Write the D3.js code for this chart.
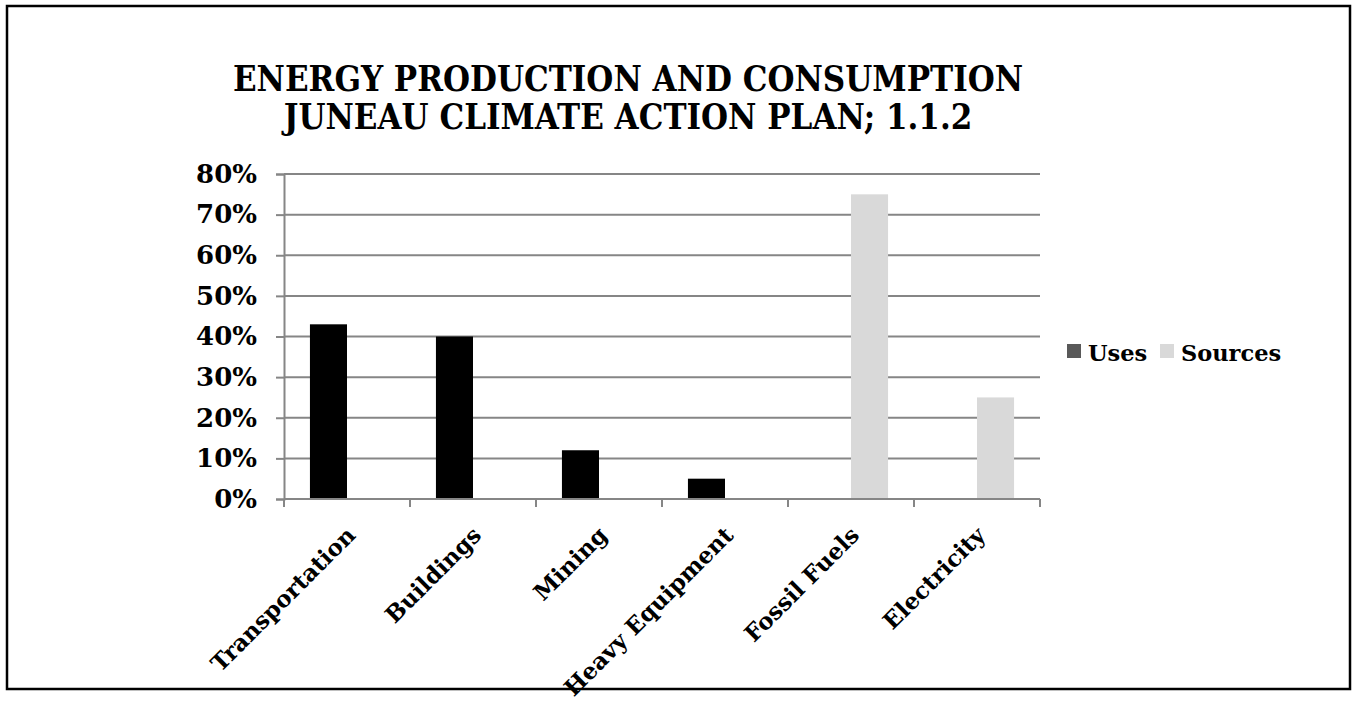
<!DOCTYPE html>
<html><head><meta charset="utf-8">
<script src="https://cdn.jsdelivr.net/npm/d3@7/dist/d3.min.js"></script>
<style>body{margin:0;background:#fff}svg{display:block}</style>
</head><body><svg id="c" width="1357" height="702"></svg>
<script>
const categories = ["Transportation","Buildings","Mining","Heavy Equipment","Fossil Fuels","Electricity"];
const seriesNames = ["Uses","Sources"];
const uses = [0.43,0.40,0.12,0.05,null,null];
const sources = [null,null,null,null,0.75,0.25];
const yTicks = [0,0.1,0.2,0.3,0.4,0.5,0.6,0.7,0.8];
const titleLines = ["Energy Production and Consumption","Juneau Climate Action Plan; 1.1.2"];
const barColors = ["#000000","#d9d9d9"];
const legendColors = ["#595959","#d9d9d9"];

const svg = d3.select("#c");
const FONT = "'DejaVu Serif', serif";
svg.append("rect").attr("x",7).attr("y",6).attr("width",1343).attr("height",683)
  .attr("fill","#fff").attr("stroke","#000").attr("stroke-width",2.5);

const L=284, R=1040, T=174, B=499;
const x = d3.scaleBand().domain(categories).range([L,R]);
const y = d3.scaleLinear().domain([0,0.8]).range([B,T]);
const xs = d3.scaleBand().domain(seriesNames).range([0,x.bandwidth()]).paddingOuter(0.7);

// title
const tt = svg.append("text").attr("text-anchor","middle")
  .attr("font-family","'DejaVu Serif Condensed','Liberation Serif', serif")
  .attr("font-weight","bold").attr("font-size",34.5).style("text-transform","uppercase")
  .attr("fill","#000");
titleLines.forEach((t,i)=>tt.append("tspan").attr("x",628).attr("y",91+i*38).text(t));

// grid
svg.append("g").selectAll("line").data(yTicks.filter(d=>d>0)).join("line")
  .attr("x1",L).attr("x2",R).attr("y1",d=>y(d)).attr("y2",d=>y(d))
  .attr("stroke","#868686").attr("stroke-width",2);

// y axis
const ya = svg.append("g").attr("transform",`translate(${L},0)`)
  .call(d3.axisLeft(y).tickValues(yTicks).tickFormat(d3.format(".0%")).tickSize(8).tickPadding(19));
ya.select(".domain").attr("stroke","#868686").attr("stroke-width",2);
ya.selectAll(".tick line").attr("stroke","#868686").attr("stroke-width",2);
ya.selectAll("text").attr("font-family",FONT).attr("font-weight","bold").attr("font-size",26).attr("fill","#000");

// bars
const data = [uses,sources];
data.forEach((arr,si)=>{
  svg.append("g").selectAll("rect").data(categories.map((c,i)=>({c,v:arr[i]})).filter(d=>d.v!=null)).join("rect")
    .attr("x",d=>x(d.c)+xs(seriesNames[si])).attr("width",xs.bandwidth())
    .attr("y",d=>y(d.v)).attr("height",d=>B-y(d.v)).attr("fill",barColors[si]);
});

// x axis
const xa = svg.append("g").attr("transform",`translate(0,${B})`);
xa.append("line").attr("x1",L).attr("x2",R).attr("stroke","#868686").attr("stroke-width",2);
xa.selectAll("line.t").data(d3.range(categories.length+1)).join("line").attr("class","t")
  .attr("x1",i=>L+i*x.step()).attr("x2",i=>L+i*x.step()).attr("y1",0).attr("y2",8)
  .attr("stroke","#868686").attr("stroke-width",2);
xa.selectAll("text").data(categories).join("text")
  .attr("transform",d=>`translate(${x(d)+x.bandwidth()/2+4},32) rotate(-45)`)
  .attr("text-anchor","end").attr("dy","0.35em")
  .attr("font-family",FONT).attr("font-weight","bold").attr("font-size",23).attr("fill","#000").text(d=>d);

// legend
const lg = svg.append("g").attr("font-family",FONT).attr("font-weight","bold").attr("font-size",22.5);
const lx=[1067,1160];
seriesNames.forEach((s,i)=>{
  lg.append("rect").attr("x",lx[i]).attr("y",344).attr("width",14).attr("height",14).attr("fill",legendColors[i]);
  lg.append("text").attr("x",lx[i]+21).attr("y",361).attr("fill","#000").text(s);
});
</script></body></html>
